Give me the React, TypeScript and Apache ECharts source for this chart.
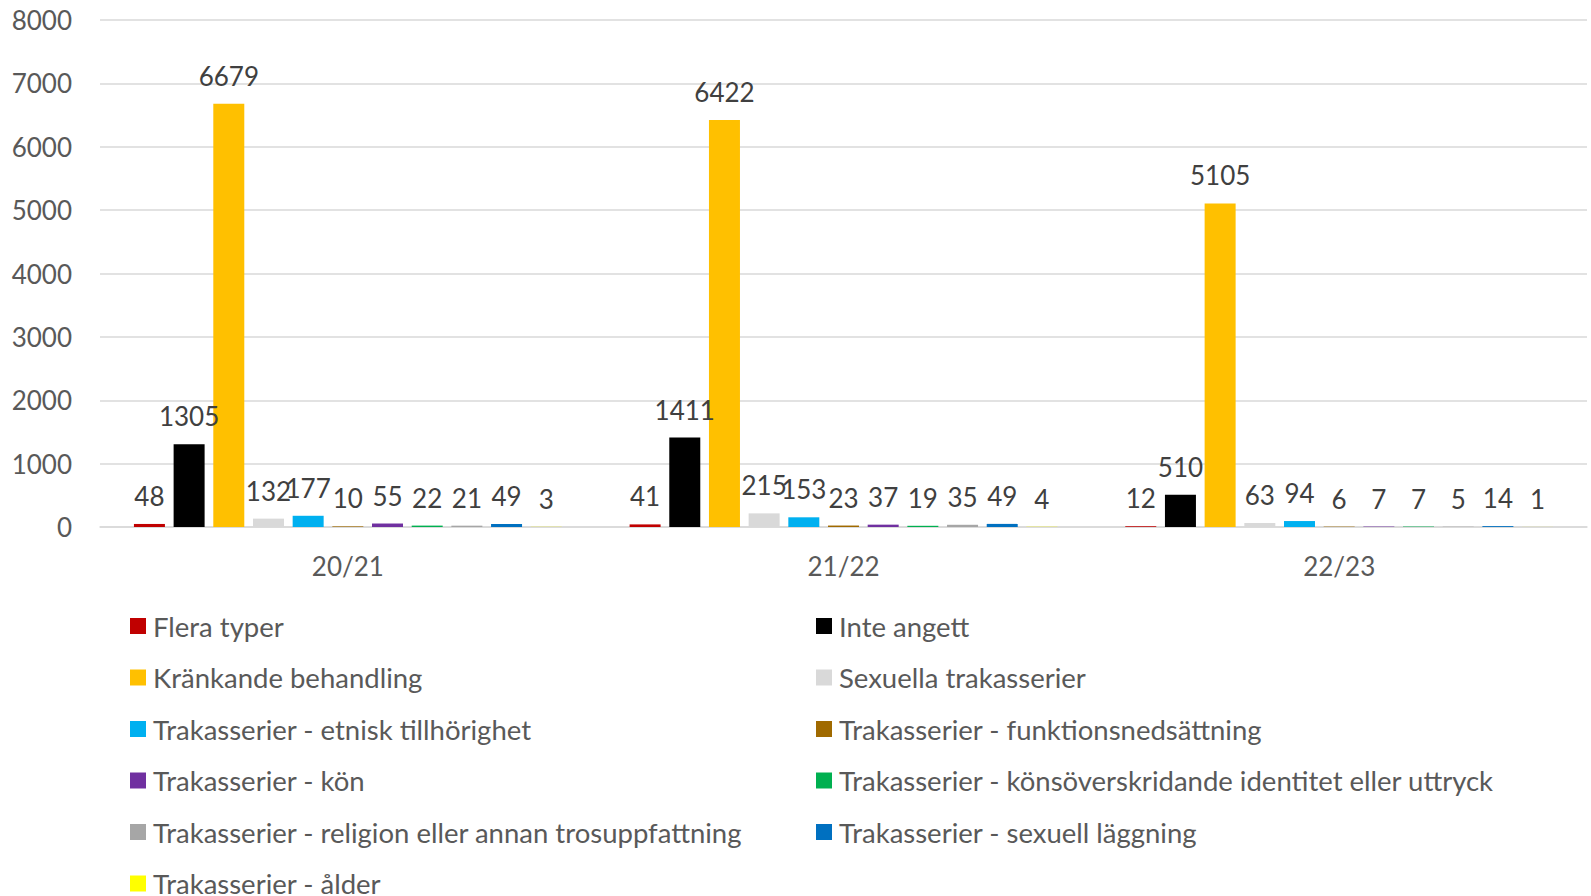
import React, { useEffect, useRef } from "react";
import * as echarts from "echarts";

const categories = ["20/21", "21/22", "22/23"];
const seriesNames = [
  "Flera typer",
  "Inte angett",
  "Kränkande behandling",
  "Sexuella trakasserier",
  "Trakasserier - etnisk tillhörighet",
  "Trakasserier - funktionsnedsättning",
  "Trakasserier - kön",
  "Trakasserier - könsöverskridande identitet eller uttryck",
  "Trakasserier - religion eller annan trosuppfattning",
  "Trakasserier - sexuell läggning",
  "Trakasserier - ålder",
];
const seriesColors = [
  "#C00000",
  "#000000",
  "#FFC000",
  "#D9D9D9",
  "#00B0F0",
  "#A06A00",
  "#7030A0",
  "#00B050",
  "#A6A6A6",
  "#0070C0",
  "#FFFF00",
];
const floraTyper = [48, 41, 12];
const inteAngett = [1305, 1411, 510];
const krankande = [6679, 6422, 5105];
const sexuella = [132, 215, 63];
const etnisk = [177, 153, 94];
const funktion = [10, 23, 6];
const kon = [55, 37, 7];
const konsover = [22, 19, 7];
const religion = [21, 35, 5];
const sexuellLaggning = [49, 49, 14];
const alder = [3, 4, 1];
const seriesValues = [
  floraTyper,
  inteAngett,
  krankande,
  sexuella,
  etnisk,
  funktion,
  kon,
  konsover,
  religion,
  sexuellLaggning,
  alder,
];
const yTicks = { min: 0, max: 8000, interval: 1000 };

const legendLeft = [0, 2, 4, 6, 8, 10].map((i) => seriesNames[i]);
const legendRight = [1, 3, 5, 7, 9].map((i) => seriesNames[i]);

const FONT = "Lato, 'Noto Sans', sans-serif";

export default function App() {
  const ref = useRef<HTMLDivElement>(null);
  useEffect(() => {
    if (!ref.current) return;
    const chart = echarts.init(ref.current, undefined, { renderer: "svg" });
    const legendCommon = {
      orient: "vertical" as const,
      top: 612,
      height: 500,
      padding: 0,
      icon: "rect",
      itemWidth: 16,
      itemHeight: 16,
      itemGap: 23.5,
      selectedMode: false,
      textStyle: {
        color: "#595959",
        fontSize: 27.5,
        fontFamily: FONT,
        padding: [0, 0, 0, 2],
      },
    };
    chart.setOption({
      animation: false,
      backgroundColor: "#ffffff",
      textStyle: { fontFamily: FONT },
      grid: { left: 100, right: 4, top: 20, bottom: 369, containLabel: false },
      legend: [
        { ...legendCommon, left: 130, data: legendLeft },
        { ...legendCommon, left: 816, data: legendRight },
      ],
      xAxis: {
        type: "category",
        data: categories,
        axisTick: { show: false },
        axisLine: { lineStyle: { color: "#D9D9D9", width: 1.5 } },
        axisLabel: {
          color: "#595959",
          fontSize: 26,
          fontFamily: FONT,
          margin: 26,
        },
      },
      yAxis: {
        type: "value",
        min: yTicks.min,
        max: yTicks.max,
        interval: yTicks.interval,
        axisLine: { show: false },
        axisTick: { show: false },
        splitLine: { lineStyle: { color: "#D9D9D9", width: 1.5 } },
        axisLabel: {
          color: "#595959",
          fontSize: 26,
          fontFamily: FONT,
          margin: 28,
          formatter: (v: number) => String(v),
        },
      },
      series: seriesNames.map((name, i) => ({
        name,
        type: "bar",
        data: seriesValues[i],
        barWidth: 31,
        barGap: "28%",
        itemStyle: { color: seriesColors[i] },
        label: {
          show: true,
          position: "top",
          distance: 15,
          color: "#404040",
          fontSize: 26,
          fontFamily: FONT,
        },
      })),
    });
    return () => chart.dispose();
  }, []);
  return (
    <div
      ref={ref}
      style={{
        position: "fixed",
        left: 0,
        top: 0,
        width: 1591,
        height: 896,
        background: "#fff",
      }}
    />
  );
}
